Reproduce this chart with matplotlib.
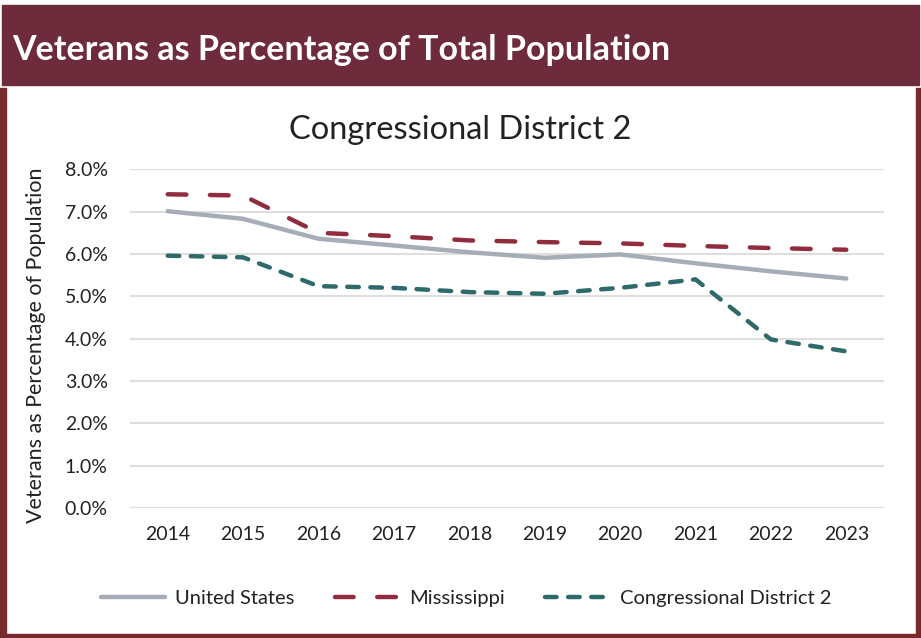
import matplotlib
matplotlib.use("Agg")
import matplotlib.pyplot as plt
from matplotlib.patches import Rectangle
from matplotlib.ticker import PercentFormatter

plt.rcParams['font.family'] = ['Lato', 'DejaVu Sans']

years = ['2014', '2015', '2016', '2017', '2018', '2019', '2020', '2021', '2022', '2023']
united_states = [7.01, 6.83, 6.36, 6.20, 6.04, 5.91, 5.99, 5.78, 5.59, 5.42]
mississippi = [7.41, 7.38, 6.50, 6.42, 6.32, 6.28, 6.25, 6.19, 6.14, 6.10]
district_2 = [5.96, 5.92, 5.24, 5.20, 5.10, 5.06, 5.20, 5.40, 3.98, 3.70]
yticks = [0, 1, 2, 3, 4, 5, 6, 7, 8]

header_col = '#6e2b3c'
frame_col = '#772a2c'
text_col = '#222222'

fig = plt.figure(figsize=(9.21, 6.38), dpi=100)
W, H = 921, 638

def fx(px):
    return px / W

def fy(py):
    return 1 - py / H

# frame and header band
fig.patches.append(Rectangle((fx(0), fy(638)), fx(6), fy(88) - fy(638),
                             transform=fig.transFigure, color=frame_col, zorder=0))
fig.patches.append(Rectangle((fx(916), fy(638)), fx(5), fy(88) - fy(638),
                             transform=fig.transFigure, color=frame_col, zorder=0))
fig.patches.append(Rectangle((0, 0), 1, 4 / H,
                             transform=fig.transFigure, color=frame_col, zorder=0))
fig.patches.append(Rectangle((fx(2), fy(85)), fx(919) - fx(2), fy(5) - fy(85),
                             transform=fig.transFigure, color=header_col, zorder=0))
fig.text(fx(12), fy(60), 'Veterans as Percentage of Total Population',
         color='white', fontsize=24.5, fontweight='bold', va='baseline', ha='left')

ax = fig.add_axes([fx(130), fy(508), fx(884) - fx(130), fy(169.3) - fy(508)])
x = range(len(years))

ax.plot(x, united_states, color='#a6adb6', lw=3.2, solid_capstyle='round',
        label='United States')
ax.plot(x, mississippi, color='#912c3e', lw=3.2, dash_capstyle='round',
        dashes=(4.2, 5.3), label='Mississippi')
ax.plot(x, district_2, color='#2e6a6a', lw=3.2, dash_capstyle='round',
        dashes=(2.6, 2.6), label='Congressional District 2')

ax.set_xlim(-0.5, len(years) - 0.5)
ax.set_ylim(0, 8)
ax.set_yticks(yticks)
ax.yaxis.set_major_formatter(PercentFormatter(decimals=1))
ax.set_xticks(list(x))
ax.set_xticklabels(years)
ax.grid(axis='y', color='#dedede', lw=1.5)
ax.set_axisbelow(True)
for s in ax.spines.values():
    s.set_visible(False)
ax.tick_params(length=0, labelsize=14, colors=text_col)
ax.tick_params(axis='y', pad=16)
ax.tick_params(axis='x', pad=13)

fig.text(fx(36), fy(345), 'Veterans as Percentage of Population', fontsize=15.5,
         color=text_col, rotation=90, ha='center', va='center')

fig.text(fx(460), fy(139), 'Congressional District 2', fontsize=23.5,
         color=text_col, ha='center', va='baseline')

fig.legend(loc='center', bbox_to_anchor=(fx(466), fy(598)), ncol=3, frameon=False,
           fontsize=14.5, handlelength=3.2, handletextpad=0.5, columnspacing=2.0,
           labelcolor=text_col)

fig.savefig('out.png', dpi=100)
